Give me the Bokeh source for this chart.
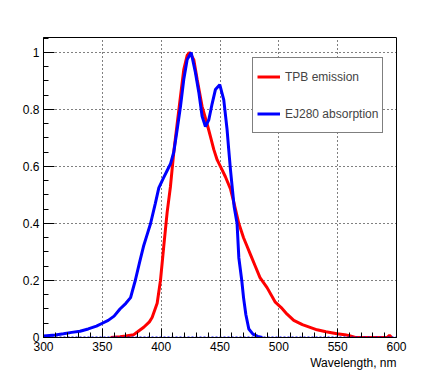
from bokeh.plotting import figure
from bokeh.models import (Range1d, FixedTicker, CustomJSTickFormatter, Legend, LegendItem,
                          Title, Span)
from bokeh.embed import file_html
from bokeh.resources import INLINE

# EJ280 absorption (blue)
ej_wl = [300, 310, 317, 324, 331, 338, 345, 350, 355, 360, 365, 370, 374, 378, 382, 385, 388,
         391, 395, 398, 402, 405, 408, 410.7, 413.6, 416.4, 419.2, 422.1, 425.5, 429.1, 432,
         434.8, 437.6, 440.5, 443.3, 446.1, 449.8, 453.2, 456, 457.4, 458.9, 460.3, 462,
         464.5, 466, 468.5, 470, 472, 474.5, 478, 482, 486]
ej_val = [0.005, 0.009, 0.013, 0.018, 0.022, 0.03, 0.04, 0.05, 0.06, 0.075, 0.10, 0.12, 0.14,
          0.20, 0.27, 0.32, 0.36, 0.40, 0.47, 0.525, 0.56, 0.585, 0.61, 0.65, 0.73, 0.81,
          0.905, 0.975, 1.0, 0.93, 0.86, 0.776, 0.74, 0.764, 0.82, 0.87, 0.887, 0.834, 0.73,
          0.66, 0.588, 0.53, 0.46, 0.40, 0.28, 0.20, 0.14, 0.08, 0.03, 0.012, 0.004, 0.0]

# TPB emission (red)
tpb_wl = [357, 365, 370, 376.7, 380, 385.2, 390, 392.3, 396.6, 399.4, 402.2, 405.1, 407.9,
          410.7, 413.6, 416.4, 419.2, 422.1, 424.3, 427.7, 430.6, 434.8, 439, 441.9, 444.7,
          447.6, 451.8, 454.6, 456, 459, 462, 466, 470, 473, 476, 480, 484, 490, 497, 502,
          507, 512.7, 520, 532.5, 540, 549.5, 556, 560, 565, 592, 594, 596]
tpb_val = [0.0, 0.003, 0.005, 0.01, 0.02, 0.036, 0.055, 0.07, 0.12, 0.2, 0.32, 0.44, 0.53,
           0.65, 0.75, 0.846, 0.94, 0.99, 1.0, 0.975, 0.905, 0.81, 0.75, 0.705, 0.66, 0.623,
           0.588, 0.564, 0.55, 0.52, 0.47, 0.40, 0.35, 0.32, 0.29, 0.25, 0.21, 0.175, 0.124,
           0.105, 0.082, 0.06, 0.045, 0.027, 0.02, 0.013, 0.01, 0.006, 0.0, 0.0, 0.008, 0.0]

x_ticks = [300, 350, 400, 450, 500, 550, 600]
y_ticks = [0, 0.2, 0.4, 0.6, 0.8, 1.0]
x_label = "Wavelength, nm"
series_names = ["TPB emission", "EJ280 absorption"]

FONT = "Liberation Sans"

p = figure(width=439, height=375, output_backend="svg", toolbar_location=None,
           x_range=Range1d(300, 600), y_range=Range1d(0, 1.0526),
           min_border_left=43, min_border_right=43, min_border_top=37, min_border_bottom=38)

p.background_fill_color = "white"
p.border_fill_color = "white"
p.outline_line_color = "black"
p.outline_line_width = 1

p.xaxis.ticker = FixedTicker(ticks=x_ticks, minor_ticks=list(range(300, 601, 10)))
p.yaxis.ticker = FixedTicker(ticks=y_ticks, minor_ticks=[i * 0.05 for i in range(0, 22)])
p.yaxis.formatter = CustomJSTickFormatter(code="return String(Number(tick.toFixed(2)));")

for ax in (p.xaxis, p.yaxis):
    ax.axis_line_color = "black"
    ax.major_tick_out = 0
    ax.minor_tick_out = 0
    ax.major_tick_line_color = "black"
    ax.minor_tick_line_color = "black"
    ax.major_label_text_font = FONT
    ax.major_label_text_font_size = "12px"
    ax.major_label_text_color = "black"
    ax.major_label_standoff = 4

p.xaxis.major_tick_in = 9
p.xaxis.minor_tick_in = 5
p.yaxis.major_tick_in = 11
p.yaxis.minor_tick_in = 5

p.grid.grid_line_color = "black"
p.grid.grid_line_dash = "1 3"
p.grid.grid_line_width = 1

# bottom blue dotted at zero
p.add_layout(Span(location=0, dimension="width", line_color="blue", line_dash="2 2",
                  line_width=2, level="glyph"))

r_tpb = p.line(tpb_wl, tpb_val, line_color="#ff0000", line_width=3)
r_ej = p.line(ej_wl, ej_val, line_color="#0000ff", line_width=3)

legend = Legend(items=[LegendItem(label=series_names[0], renderers=[r_tpb]),
                       LegendItem(label=series_names[1], renderers=[r_ej])],
                location=(209, 204), padding=4, spacing=8, label_height=29,
                glyph_height=29, glyph_width=23, label_standoff=5,
                border_line_color="black", border_line_width=1,
                background_fill_color="white", background_fill_alpha=1.0,
                label_text_font=FONT, label_text_font_size="12px", margin=0)
p.add_layout(legend)

p.add_layout(Title(text=x_label, align="right", text_font=FONT, text_font_size="12px",
                   text_font_style="normal", text_color="black", standoff=0, offset=0),
             "below")

open("out.html", "w").write(file_html(p, INLINE))
